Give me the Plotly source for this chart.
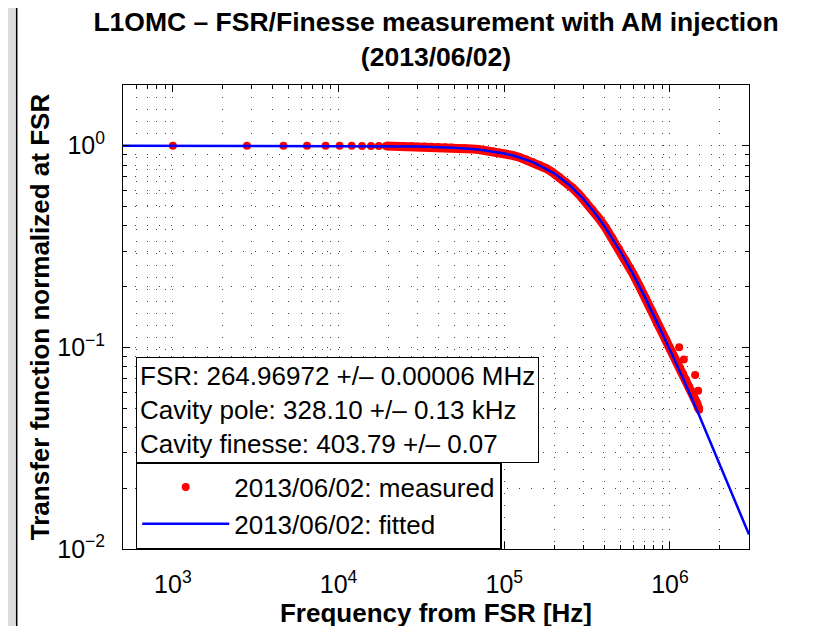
import plotly.graph_objects as go
import math

# measured transfer function
freq_meas = [1000, 2800, 4650, 6450, 8350, 10150, 12000, 13850, 15700, 17500,
             19300, 21200, 23000, 25000, 27500, 30000, 33000, 36000, 40000, 44000,
             48000, 53000, 58000, 64000, 70000, 77000, 85000, 93000, 102000, 112000,
             123000, 135000, 148000, 162000, 178000, 195000, 214000, 235000, 258000, 283000,
             310000, 340000, 373000, 409000, 449000, 492000, 540000, 592000, 650000, 713000,
             782000, 858000, 941000, 1000000, 1050000, 1100000, 1150000, 1200000, 1250000, 1300000,
             1350000, 1400000, 1450000, 1500000]
tf_meas = [1.000, 1.000, 1.000, 1.000, 0.999, 0.999, 0.999, 0.998, 0.998, 0.997,
           0.997, 0.996, 0.995, 0.994, 0.993, 0.992, 0.990, 0.988, 0.985, 0.982,
           0.979, 0.975, 0.970, 0.963, 0.957, 0.948, 0.937, 0.926, 0.912, 0.896,
           0.877, 0.855, 0.831, 0.804, 0.773, 0.739, 0.702, 0.661, 0.618, 0.573,
           0.528, 0.482, 0.436, 0.392, 0.348, 0.308, 0.270, 0.235, 0.203, 0.175,
           0.150, 0.128, 0.109, 0.098, 0.091, 0.085, 0.079, 0.074, 0.069, 0.064,
           0.060, 0.056, 0.053, 0.049]
# scattered points above the band at high frequency
freq_out = [1137000, 1213000, 1419000, 1480000]
tf_out = [0.100, 0.087, 0.073, 0.061]

# fitted curve
freq_fit = [500, 1000, 10000, 20000, 30000, 50000, 70000, 100000, 120000, 150000,
            200000, 250000, 300000, 350000, 400000, 500000, 600000, 700000, 800000, 900000,
            1000000, 1200000, 1500000, 2000000, 3000000]
tf_fit = [1.0, 1.0, 0.999, 0.996, 0.992, 0.977, 0.957, 0.915, 0.882, 0.827,
          0.729, 0.633, 0.545, 0.468, 0.402, 0.301, 0.230, 0.180, 0.144, 0.117,
          0.097, 0.070, 0.046, 0.026, 0.0118]

x_tickvals = [1e3, 1e4, 1e5, 1e6]
x_ticktext = ["10<sup>3</sup>", "10<sup>4</sup>", "10<sup>5</sup>", "10<sup>6</sup>"]
y_tickvals = [0.01, 0.1, 1]
y_ticktext = ["10<sup>\u22122</sup>", "10<sup>\u22121</sup>", "10<sup>0</sup>"]

FONT = "Liberation Sans, Arial, Helvetica, sans-serif"
grid_dash = "1px,11px"
grid_col = "#444444"

fig = go.Figure()

# dense part of the measurement drawn as a thick band
fig.add_trace(go.Scatter(
    x=freq_meas[10:], y=tf_meas[10:], mode="lines",
    line=dict(color="#ff0000", width=9), showlegend=False, hoverinfo="skip"
))
fig.add_trace(go.Scatter(
    x=freq_meas + freq_out, y=tf_meas + tf_out, mode="markers",
    marker=dict(color="#ff0000", size=8), name="2013/06/02: measured"
))
fig.add_trace(go.Scatter(
    x=freq_fit, y=tf_fit, mode="lines",
    line=dict(color="#0000ff", width=2.5), name="2013/06/02: fitted"
))

axis_common = dict(
    type="log", ticks="inside", ticklen=7, tickcolor="black",
    showline=True, linecolor="black", linewidth=1, mirror="allticks",
    showgrid=True, gridcolor=grid_col, gridwidth=1, griddash=grid_dash,
    zeroline=False, tickfont=dict(size=25, color="black", family=FONT),
    tickmode="array",
    minor=dict(dtick="D1", ticks="inside", ticklen=4, tickcolor="black",
               showgrid=True, gridcolor=grid_col, gridwidth=1, griddash=grid_dash),
)

fig.update_layout(
    width=823, height=626,
    # the page adds an 8px body margin, compensated here
    margin=dict(l=115, r=82, t=77, b=81),
    paper_bgcolor="#dcdcdc", plot_bgcolor="white",
    font=dict(family=FONT, color="black"),
    title=dict(text="<b>L1OMC \u2013 FSR/Finesse measurement with AM injection<br>(2013/06/02)</b>",
               x=0.5, xref="paper", xanchor="center", y=0.9626, yanchor="top",
               font=dict(size=26.5, color="black")),
    xaxis=dict(axis_common, range=[math.log10(500), math.log10(3e6)],
               tickvals=x_tickvals, ticktext=x_ticktext, ticklabelstandoff=13,
               title=dict(text="<b>Frequency from FSR [Hz]</b>", font=dict(size=26), standoff=6)),
    yaxis=dict(axis_common, range=[-2, math.log10(2)],
               tickvals=y_tickvals, ticktext=y_ticktext, ticklabelstandoff=12,
               title=dict(text="<b>Transfer function normalized at FSR</b>", font=dict(size=26), standoff=0)),
    legend=dict(x=0.0203, y=0.1875, xanchor="left", yanchor="top",
                bgcolor="white", bordercolor="black", borderwidth=1.5,
                font=dict(size=26, color="black"), itemwidth=87, tracegroupgap=0),
    showlegend=True,
)

# white figure panel
fig.add_shape(type="rect", xref="paper", yref="paper", layer="below",
              x0=-0.1698, x1=1.2748, y0=-0.2, y1=1.17,
              fillcolor="white", line=dict(color="black", width=1.5))

fig.add_annotation(
    text="FSR: 264.96972 +/\u2013 0.00006 MHz<br>Cavity pole: 328.10 +/\u2013 0.13 kHz<br>Cavity finesse: 403.79 +/\u2013 0.07",
    xref="paper", yref="paper", x=0.0203, y=0.414, xanchor="left", yanchor="top",
    align="left", showarrow=False, font=dict(size=26, color="black"),
    bgcolor="white", bordercolor="black", borderwidth=1, borderpad=3,
)

fig.write_html("out.html")
